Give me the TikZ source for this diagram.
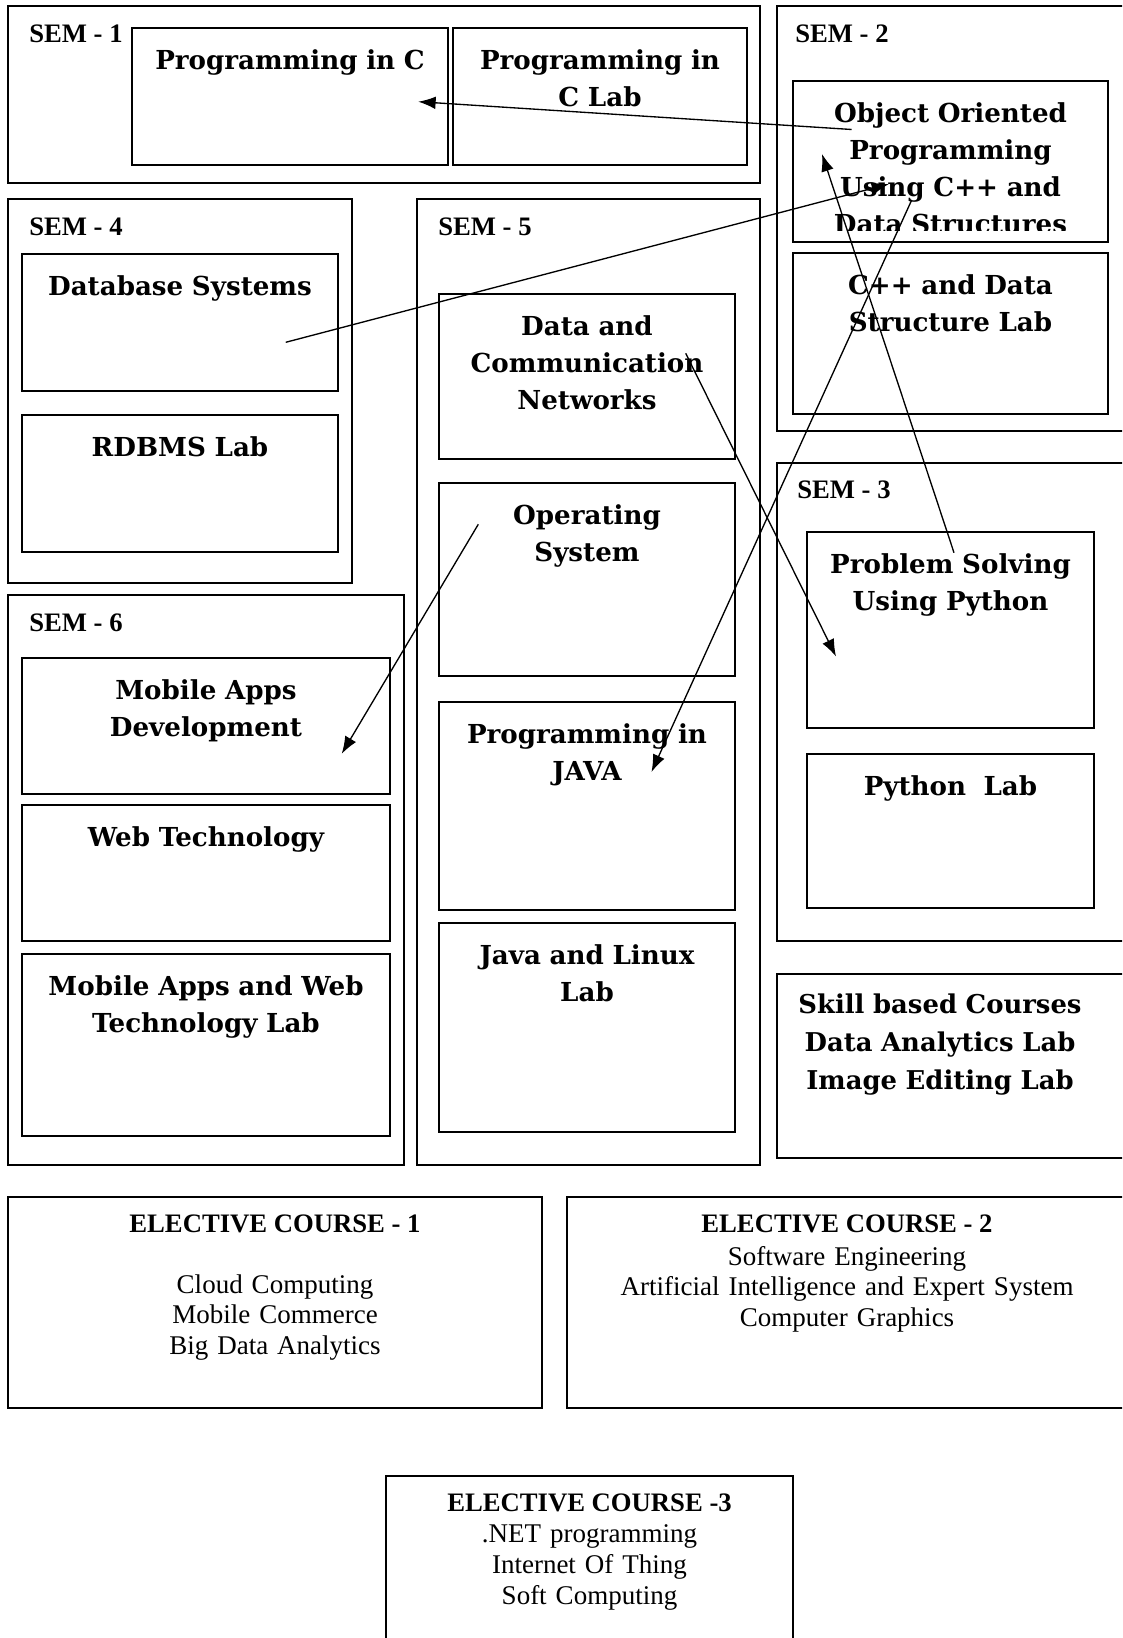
\documentclass[tikz,border=0pt]{standalone}
\usepackage{fontspec}
\newfontfamily\tms{Liberation Serif}
\newfontfamily\dvs{DejaVu Serif}
\usetikzlibrary{fit,arrows.meta}
\newcommand\coursefont{\dvs\bfseries\fontsize{19.6}{27.9}\selectfont}
\begin{document}
\begin{tikzpicture}[x=0.75pt,y=-0.75pt,
  box/.style={draw, line width=1.3pt, inner sep=0pt},
  course/.style={font=\coursefont, align=center, text width=330pt, inner sep=0pt, anchor=base},
  semlab/.style={font=\tms\bfseries\fontsize{20}{24}\selectfont, anchor=base west, inner sep=0pt},
  ehead/.style={font=\tms\bfseries\fontsize{20}{24}\selectfont, anchor=base, inner sep=0pt},
  eitem/.style={font=\tms\fontsize{20.25}{23}\selectfont, align=center, text width=500pt, inner sep=0pt, anchor=base},
  link/.style={line width=1pt, -{Latex[length=13pt,width=9.5pt]}}]
\useasboundingbox (0,0) rectangle (1122,1638);
\clip (0,0) rectangle (1122,1638);
\fill[white] (0,0) rectangle (1122,1638);

% ---- outer semester boxes ----
\node[box, fit={(8,6) (760,183)}] (sem1) {};
\node[box, fit={(777,6) (1140,431)}] (sem2) {};
\node[box, fit={(8,199) (352,583)}] (sem4) {};
\node[box, fit={(417,199) (760,1165)}] (sem5) {};
\node[box, fit={(777,463) (1140,941)}] (sem3) {};
\node[box, fit={(8,595) (404,1165)}] (sem6) {};
\node[box, fit={(777,974) (1140,1158)}] (skill) {};
\node[box, fit={(8,1197) (542,1408)}] (el1) {};
\node[box, fit={(567,1197) (1140,1408)}] (el2) {};
\node[box, fit={(386,1476) (793,1660)}] (el3) {};

% ---- course boxes ----
\node[box, fit={(132,28) (448,165)}] (pc) {};
\node[box, fit={(453,28) (747,165)}] (pclab) {};
\node[box, fit={(793,81) (1108,242)}] (oop) {};
\node[box, fit={(793,253) (1108,414)}] (cpplab) {};
\node[box, fit={(22,254) (338,391)}] (db) {};
\node[box, fit={(22,415) (338,552)}] (rdbms) {};
\node[box, fit={(439,294) (735,459)}] (dcn) {};
\node[box, fit={(439,483) (735,676)}] (os) {};
\node[box, fit={(439,702) (735,910)}] (java) {};
\node[box, fit={(439,923) (735,1132)}] (javalab) {};
\node[box, fit={(807,532) (1094,728)}] (ps) {};
\node[box, fit={(807,754) (1094,908)}] (pylab) {};
\node[box, fit={(22,658) (390,794)}] (mad) {};
\node[box, fit={(22,805) (390,941)}] (web) {};
\node[box, fit={(22,954) (390,1136)}] (mawl) {};

% ---- semester labels ----
\node[semlab] (l1) at (29,42) {SEM - 1};
\node[semlab] (l2) at (795,42) {SEM - 2};
\node[semlab] (l4) at (29,235) {SEM - 4};
\node[semlab] (l5) at (438,235) {SEM - 5};
\node[semlab] (l3) at (797,498) {SEM - 3};
\node[semlab] (l6) at (29,631) {SEM - 6};

% ---- course texts ----
\node[course] (tpc) at (290,69) {Programming in C};
\node[course] (tpclab) at (600,69) {Programming in\\C Lab};
\begin{scope}
\clip (793,81) rectangle (1108,230);
\node[course] (toop) at (950.5,122) {Object Oriented\\Programming\\Using C++ and\\Data Structures};
\end{scope}
\node[course] (tcpp) at (950.5,294) {C++ and Data\\Structure Lab};
\node[course] (tdb) at (180,295) {Database Systems};
\node[course] (trd) at (180,456) {RDBMS Lab};
\node[course] (tdcn) at (587,335) {Data and\\Communication\\Networks};
\node[course] (tos) at (587,524) {Operating\\System};
\node[course] (tjava) at (587,743) {Programming in\\JAVA};
\node[course] (tjl) at (587,964) {Java and Linux\\Lab};
\node[course] (tps) at (950.5,573) {Problem Solving\\Using Python};
\node[course] (tpy) at (950.5,795) {Python~~Lab};
\node[course] (tmad) at (206,699) {Mobile Apps\\Development};
\node[course] (tweb) at (206,846) {Web Technology};
\node[course] (tmawl) at (206,995) {Mobile Apps and Web\\Technology Lab};
\node[course, font=\dvs\bfseries\fontsize{19.4}{28.5}\selectfont] (tskill) at (940,1013) {Skill based Courses\\Data Analytics Lab\\Image Editing Lab};

% ---- electives ----
\node[ehead] (h1) at (275,1232) {ELECTIVE COURSE - 1};
\node[eitem] (i1) at (275,1293) {Cloud Computing\\Mobile Commerce\\Big Data Analytics};
\node[ehead] (h2) at (847,1232) {ELECTIVE COURSE - 2};
\node[eitem] (i2) at (847,1265) {Software Engineering\\Artificial Intelligence and Expert System\\Computer Graphics};
\node[ehead] (h3) at (589.5,1511) {ELECTIVE COURSE -3};
\node[eitem] (i3) at (589.5,1542.7) {.NET programming\\Internet Of Thing\\Soft Computing};

% ---- connector end points ----
\coordinate (a1s) at (851.7,129.5);
\coordinate (a1t) at (418.3,101.7);
\coordinate (a2s) at (285.7,342.3);
\coordinate (a2t) at (889,184);
\coordinate (a3s) at (954,552.7);
\coordinate (a3t) at (822,154);
\coordinate (a4s) at (685.7,353.3);
\coordinate (a4t) at (836,656.5);
\coordinate (a5s) at (911.7,200);
\coordinate (a5t) at (651.5,772);
\coordinate (a6s) at (478.3,524.3);
\coordinate (a6t) at (341.7,753.8);

\draw[link] (a1s) -- (a1t);
\draw[link] (a2s) -- (a2t);
\draw[link] (a3s) -- (a3t);
\draw[link] (a4s) -- (a4t);
\draw[link] (a5s) -- (a5t);
\draw[link] (a6s) -- (a6t);
\end{tikzpicture}
\end{document}
